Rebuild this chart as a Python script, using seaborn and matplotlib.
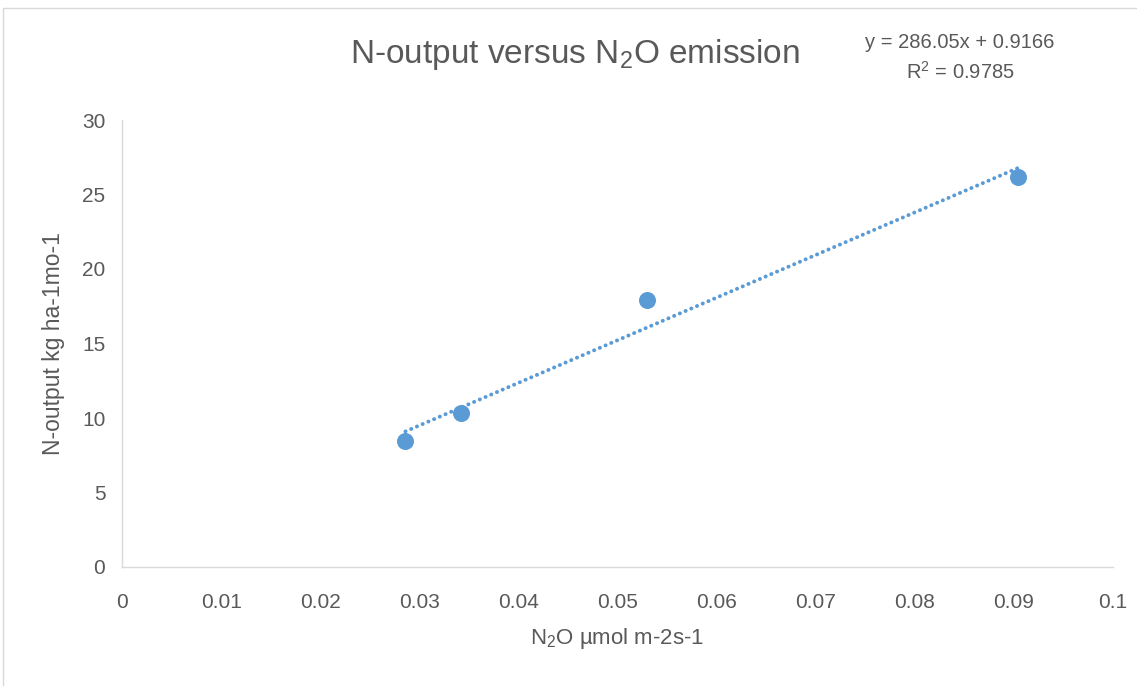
import matplotlib
matplotlib.use("Agg")
import matplotlib.pyplot as plt
import seaborn as sns
import pandas as pd
import numpy as np
from matplotlib.patches import Rectangle

# Measured N2O flux and N output
n2o_flux = [0.0286, 0.0342, 0.0530, 0.0904]
n_output = [8.46, 10.34, 17.92, 26.17]

# Linear trendline coefficients
slope = 286.05
intercept = 0.9166
r_squared = 0.9785

x_ticks = [0, 0.01, 0.02, 0.03, 0.04, 0.05, 0.06, 0.07, 0.08, 0.09, 0.1]
x_tick_labels = ["0", "0.01", "0.02", "0.03", "0.04", "0.05", "0.06", "0.07", "0.08", "0.09", "0.1"]
y_ticks = [0, 5, 10, 15, 20, 25, 30]

sns.set_theme(style="white")
plt.rcParams["font.family"] = ["Liberation Sans", "DejaVu Sans"]
plt.rcParams["mathtext.fontset"] = "custom"
plt.rcParams["mathtext.rm"] = "Liberation Sans"
plt.rcParams["mathtext.it"] = "Liberation Sans"

text_color = "#595959"
blue = "#5B9BD5"

df = pd.DataFrame({"x": n2o_flux, "y": n_output})

fig = plt.figure(figsize=(11.37, 6.86), dpi=100)
ax = fig.add_axes([122 / 1137, 1 - 567 / 686, (1113 - 122) / 1137, (567 - 120) / 686])

# chart area border
fig.patches.append(Rectangle((3 / 1137, -0.05), 1.2, 1 - 8 / 686 + 0.05,
                             transform=fig.transFigure, fill=False,
                             edgecolor="#d9d9d9", linewidth=1.0, zorder=0))

# trendline over the data range
x_line = np.array([min(n2o_flux), max(n2o_flux)])
trend = pd.DataFrame({"x": x_line, "y": slope * x_line + intercept})
sns.lineplot(data=trend, x="x", y="y", ax=ax, color=blue, linewidth=2.8,
             linestyle=(0, (0.05, 1.55)), dash_capstyle="round", zorder=2)

sns.scatterplot(data=df, x="x", y="y", ax=ax, color=blue, s=150,
                edgecolor=blue, linewidth=0, zorder=3)

ax.set_xlim(0, 0.1)
ax.set_ylim(0, 30)
ax.set_xticks(x_ticks)
ax.set_xticklabels(x_tick_labels)
ax.set_yticks(y_ticks)
ax.tick_params(axis="both", length=0, labelsize=15, labelcolor=text_color)
ax.tick_params(axis="x", pad=19)
ax.tick_params(axis="y", pad=12)

for side in ["top", "right"]:
    ax.spines[side].set_visible(False)
for side in ["left", "bottom"]:
    ax.spines[side].set_color("#d9d9d9")
    ax.spines[side].set_linewidth(1.0)

ax.set_xlabel(r"N$_2$O µmol m-2s-1", fontsize=16, color=text_color, labelpad=10)
ax.set_ylabel("N-output kg ha-1mo-1", fontsize=16.5, color=text_color, labelpad=12)

fig.text(575 / 1137, 1 - 54 / 686, r"N-output versus N$_2$O emission",
         ha="center", va="center", fontsize=24, color=text_color)
fig.text(960 / 1137, 1 - 43 / 686, f"y = {slope}x + {intercept}",
         ha="center", va="center", fontsize=14.5, color=text_color)
fig.text(960 / 1137, 1 - 72 / 686, f"R$^2$ = {r_squared}",
         ha="center", va="center", fontsize=14.5, color=text_color)

fig.savefig("out.png", dpi=100, facecolor="white")
